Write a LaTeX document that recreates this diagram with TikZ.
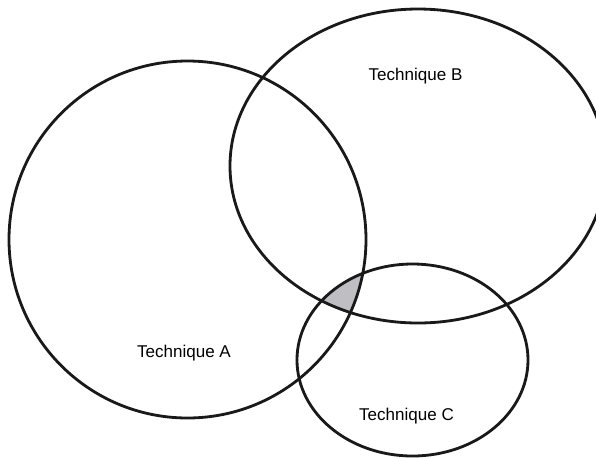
\documentclass[tikz,border=0pt]{standalone}
\usepackage{fontspec}
\setmainfont{Liberation Sans}

\begin{document}
\begin{tikzpicture}[x=0.02cm,y=-0.02cm,font=\fontsize{9.7}{11}\selectfont,
    setline/.style={line width=1.6pt,black!90},
    overlap/.style={fill={rgb,255:red,190;green,190;blue,195}}]
    \fill[white] (0,0) rectangle (596,458);
    \useasboundingbox (0,0) rectangle (596,458);
    \clip (0,0) rectangle (596,458);

    % Shared region of the three techniques.
    \begin{scope}
      \clip (187.5,239.5) circle [radius=178.5];
      \clip (418,166) ellipse [x radius=188,y radius=157];
      \fill[overlap] (412.5,360) ellipse [x radius=115.5,y radius=96];
    \end{scope}

    % Technique sets.
    \draw[setline] (187.5,239.5) circle [radius=178.5];
    \draw[setline] (418,166) ellipse [x radius=188,y radius=157];
    \draw[setline] (412.5,360) ellipse [x radius=115.5,y radius=96];

    % Labels.
    \node (labA) at (184,353) {Technique A};
    \node (labB) at (415.5,76) {Technique B};
    \node (labC) at (406.5,416) {Technique C};
  \end{tikzpicture}
\end{document}
